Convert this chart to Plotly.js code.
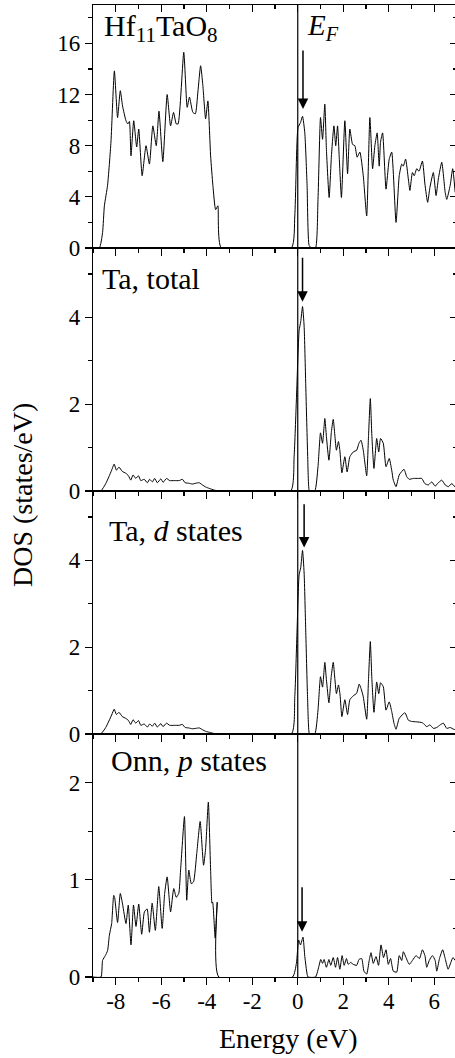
<!DOCTYPE html>
<html>
<head>
<meta charset="utf-8">
<script src="https://cdn.plot.ly/plotly-3.0.1.min.js"></script>
<style>
  html, body { margin: 0; padding: 0; background: #fff; overflow: hidden; }
  #chart { width: 457px; height: 1058px; }
</style>
</head>
<body>
<div id="chart"></div>
<script>
// ---------- data ----------
// Panel 1: Hf11TaO8 total DOS
const hfE = [-9.0,-8.72,-8.58,-8.50,-8.36,-8.21,-8.06,-7.92,-7.80,-7.70,-7.55,-7.47,-7.40,-7.33,-7.21,-7.08,-6.99,-6.84,-6.67,-6.52,-6.37,-6.22,-6.10,-5.93,-5.74,-5.59,-5.46,-5.34,-5.26,-5.01,-4.86,-4.76,-4.61,-4.50,-4.39,-4.27,-4.17,-4.05,-3.95,-3.83,-3.73,-3.61,-3.51,-3.36,
  -0.28,-0.13,0.01,0.12,0.21,0.31,0.41,0.50,0.60,0.78,0.89,1.00,1.09,1.19,1.26,1.38,1.48,1.59,1.67,1.75,1.82,1.92,2.07,2.19,2.29,2.41,2.51,2.61,2.73,2.88,3.03,3.17,3.29,3.39,3.49,3.58,3.64,3.73,3.88,4.02,4.13,4.32,4.46,4.57,4.64,4.74,4.86,4.93,5.04,5.12,5.23,5.33,5.48,5.59,5.71,5.81,5.96,6.08,6.18,6.33,6.48,6.55,6.70,6.81,6.92];
const hfDos = [0,0,1.2,3.3,4.9,8.3,13.85,10.2,12.3,11.1,9.95,9.7,9.9,7.2,9.95,7.9,9.3,5.65,8.0,6.56,9.55,8.0,10.7,6.75,12.0,9.55,10.6,9.7,9.7,15.3,11.0,11.8,10.6,10.5,12.2,14.25,12.7,10.1,11.5,7.2,4.9,3.0,3.3,0,
  0,2.5,9.4,9.8,10.3,9.0,4.9,0.2,0,0,3.8,10.2,8.5,11.25,7.7,3.95,7.2,9.55,8.0,9.55,7.2,3.95,9.95,5.8,9.3,8.1,8.0,7.1,7.5,5.65,2.5,10.2,6.2,8.0,9.0,6.4,8.3,9.0,4.6,6.95,7.5,2.0,5.65,6.56,6.4,6.95,5.4,4.5,5.9,5.65,6.2,6.0,6.8,5.0,3.57,4.74,5.9,4.1,5.4,6.7,4.35,3.8,4.9,6.2,4.35];

// Panel 2: Ta, total
const taTotE = [-9.0,-8.66,-8.44,-8.30,-8.18,-8.07,-7.97,-7.86,-7.71,-7.56,-7.44,-7.34,-7.24,-7.12,-7.00,-6.90,-6.75,-6.61,-6.51,-6.39,-6.29,-6.17,-6.02,-5.92,-5.77,-5.63,-5.43,-5.21,-5.07,-4.95,-4.80,-4.63,-4.48,-4.33,-4.19,-4.04,-3.89,-3.67,-3.45,
  -0.31,-0.16,-0.06,0.06,0.13,0.21,0.28,0.35,0.43,0.50,0.55,0.75,0.89,1.00,1.09,1.19,1.26,1.37,1.48,1.56,1.63,1.70,1.79,1.85,1.94,2.07,2.17,2.29,2.44,2.59,2.69,2.78,2.88,3.03,3.11,3.19,3.26,3.35,3.47,3.56,3.64,3.76,3.88,4.02,4.13,4.20,4.32,4.46,4.67,4.79,4.90,5.08,5.30,5.45,5.59,5.74,5.89,6.04,6.14,6.33,6.48,6.62,6.77,6.92];
const taTotDos = [0,0,0.17,0.33,0.48,0.62,0.48,0.55,0.45,0.41,0.35,0.25,0.37,0.29,0.35,0.24,0.27,0.19,0.27,0.21,0.29,0.19,0.28,0.20,0.29,0.24,0.24,0.24,0.27,0.19,0.18,0.16,0.18,0.19,0.14,0.09,0.06,0.02,0,
  0,0.79,2.1,3.7,3.9,4.25,3.8,2.48,0.94,0.02,0,0,0.56,1.34,1.1,1.67,1.25,0.71,1.37,1.65,1.29,0.94,1.14,0.94,0.42,0.79,0.44,0.79,0.90,0.94,1.1,1.17,0.94,0.35,1.25,2.13,1.25,0.52,1.21,0.9,1.21,1.1,0.56,0.75,0.48,0.25,0.1,0.37,0.5,0.33,0.27,0.29,0.29,0.29,0.17,0.14,0.21,0.11,0.17,0.25,0.14,0.1,0.17,0.09];

// Panel 3: Ta, d states
const taDE = [-9.0,-8.66,-8.44,-8.30,-8.18,-8.07,-7.97,-7.86,-7.71,-7.56,-7.44,-7.34,-7.24,-7.12,-7.00,-6.90,-6.75,-6.61,-6.51,-6.39,-6.29,-6.17,-6.02,-5.92,-5.77,-5.63,-5.43,-5.21,-5.07,-4.95,-4.80,-4.63,-4.48,-4.33,-4.19,-4.04,-3.89,-3.67,-3.45,
  -0.28,-0.13,-0.03,0.06,0.13,0.21,0.28,0.35,0.43,0.50,0.55,0.75,0.89,1.00,1.09,1.19,1.26,1.37,1.47,1.56,1.63,1.70,1.79,1.86,1.94,2.07,2.19,2.29,2.44,2.59,2.70,2.78,2.88,3.03,3.11,3.19,3.26,3.35,3.47,3.56,3.64,3.76,3.88,4.02,4.13,4.23,4.32,4.46,4.71,4.86,5.00,5.23,5.48,5.67,5.81,5.96,6.11,6.26,6.40,6.55,6.70,6.85,6.95];
const taDDos = [0,0,0.15,0.30,0.44,0.57,0.45,0.50,0.40,0.36,0.31,0.22,0.33,0.25,0.31,0.20,0.23,0.16,0.23,0.18,0.25,0.16,0.24,0.17,0.25,0.20,0.20,0.20,0.22,0.15,0.14,0.12,0.13,0.14,0.10,0.06,0.04,0.01,0,
  0,0.86,2.4,3.67,3.83,4.23,3.71,2.4,0.86,0.03,0,0,0.55,1.32,1.08,1.65,1.25,0.72,1.32,1.65,1.28,0.93,1.13,0.9,0.4,0.79,0.45,0.79,0.88,0.94,1.15,1.05,0.86,0.34,1.25,2.13,1.25,0.5,1.2,0.93,1.18,1.09,0.55,0.74,0.52,0.25,0.11,0.36,0.49,0.32,0.29,0.28,0.26,0.17,0.21,0.13,0.15,0.21,0.25,0.13,0.15,0.11,0.1];

// Panel 4: Onn, p states
const onnE = [-9.0,-8.65,-8.58,-8.46,-8.36,-8.28,-8.18,-8.09,-8.05,-7.92,-7.80,-7.70,-7.55,-7.45,-7.33,-7.22,-7.11,-6.99,-6.86,-6.74,-6.62,-6.52,-6.40,-6.26,-6.11,-5.96,-5.85,-5.74,-5.59,-5.45,-5.34,-5.23,-5.15,-4.98,-4.88,-4.79,-4.68,-4.58,-4.44,-4.29,-4.14,-4.05,-3.93,-3.83,-3.77,-3.74,-3.63,-3.54,-3.47,
  -0.23,-0.06,0.04,0.12,0.23,0.31,0.41,0.45,0.78,0.94,1.01,1.09,1.16,1.26,1.37,1.45,1.56,1.66,1.75,1.85,1.95,2.04,2.14,2.22,2.32,2.44,2.59,2.69,2.81,2.91,3.03,3.14,3.22,3.32,3.44,3.55,3.66,3.77,3.88,3.98,4.08,4.20,4.35,4.46,4.57,4.64,4.76,4.90,5.04,5.20,5.35,5.48,5.59,5.67,5.78,5.92,6.04,6.11,6.23,6.37,6.48,6.61,6.73,6.82,6.92];
const onnDos = [0,0,0.17,0.22,0.27,0.43,0.55,0.84,0.82,0.56,0.86,0.75,0.55,0.74,0.33,0.74,0.52,0.75,0.44,0.67,0.70,0.46,0.76,0.48,0.93,0.50,0.86,1.03,0.67,0.91,0.82,0.86,1.10,1.65,0.79,1.10,0.96,0.98,1.27,1.60,1.15,1.32,1.80,1.10,0.76,0.77,0.40,0.77,0,
  0,0.14,0.38,0.33,0.41,0.21,0.03,0,0,0.12,0.18,0.14,0.18,0.10,0.18,0.12,0.20,0.10,0.20,0.08,0.22,0.12,0.19,0.13,0.15,0.13,0.12,0.18,0.19,0.06,0.03,0.17,0.25,0.14,0.21,0.12,0.33,0.20,0.28,0.13,0.19,0.06,0.05,0.22,0.17,0.26,0.20,0.13,0.17,0.22,0.19,0.28,0.22,0.10,0.17,0.22,0.17,0.06,0.19,0.28,0.19,0.08,0.15,0.20,0.17];

// Axis ticks / labels
const xTickVals = [-8,-6,-4,-2,0,2,4,6];
const xTickText = ['-8','-6','-4','-2','0','2','4','6'];
const panelLabels = ['Hf<sub>11</sub>TaO<sub>8</sub>', 'Ta, total', 'Ta, <i>d</i> states', 'Onn, <i>p</i> states'];
const fermiEnergy = 0;

// ---------- styling ----------
const FONT = 'Liberation Serif';
const xRange = [-9, 7];
const yRanges = [[0, 19], [0, 5.6], [0, 5.6], [0, 2.5]];
const yDticks = [4, 2, 2, 1];
const domains = [[0.75, 1], [0.5, 0.75], [0.25, 0.5], [0, 0.25]];
const series = [[hfE, hfDos], [taTotE, taTotDos], [taDE, taDDos], [onnE, onnDos]];

const data = [];
const layout = {
  width: 457, height: 1058,
  margin: {l: 93, r: 0, t: 5, b: 81},
  paper_bgcolor: '#fff', plot_bgcolor: '#fff',
  showlegend: false,
  font: {family: FONT, color: '#000', size: 23},
  shapes: [], annotations: []
};

const LW = 1.2, TL = 7, MTL = 4;

for (let i = 0; i < 4; i++) {
  const xn = i === 0 ? 'x' : 'x' + (i + 1);
  const yn = i === 0 ? 'y' : 'y' + (i + 1);
  const xk = i === 0 ? 'xaxis' : 'xaxis' + (i + 1);
  const yk = i === 0 ? 'yaxis' : 'yaxis' + (i + 1);
  data.push({
    x: series[i][0], y: series[i][1], xaxis: xn, yaxis: yn,
    type: 'scatter', mode: 'lines', hoverinfo: 'skip',
    line: {color: '#000', width: 1, shape: 'spline', smoothing: 0.5}
  });
  layout[xk] = {
    domain: [0, 1], anchor: yn, range: xRange,
    showline: true, linecolor: '#000', linewidth: LW, mirror: true,
    ticks: 'outside', ticklen: TL, tickwidth: LW, tickcolor: '#000',
    tickmode: 'array', tickvals: xTickVals, ticktext: xTickText,
    showticklabels: i === 3, ticklabelstandoff: -4,
    tickfont: {size: 23, family: FONT, color: '#000'},
    minor: {dtick: 1, tick0: 0, ticks: 'outside', ticklen: MTL, tickwidth: LW, tickcolor: '#000', showgrid: false},
    showgrid: false, zeroline: false, fixedrange: true
  };
  layout[yk] = {
    domain: domains[i], anchor: xn, range: yRanges[i],
    showline: true, linecolor: '#000', linewidth: LW, mirror: true,
    ticks: 'outside', ticklen: TL, tickwidth: LW, tickcolor: '#000',
    dtick: yDticks[i], tick0: 0, tickfont: {size: 23, family: FONT, color: '#000'},
    minor: {dtick: yDticks[i] / 2, tick0: 0, ticks: 'outside', ticklen: MTL, tickwidth: LW, tickcolor: '#000', showgrid: false},
    showgrid: false, zeroline: false, fixedrange: true
  };
  // right-hand inside ticks
  const ryn = 'y' + (i + 5);
  data.push({x: [-100], y: [-100], xaxis: xn, yaxis: ryn, mode: 'lines', hoverinfo: 'skip', line: {width: 0}});
  layout['yaxis' + (i + 5)] = {
    overlaying: yn, anchor: xn, side: 'right', range: yRanges[i],
    showline: false, ticks: 'inside', ticklen: TL, tickwidth: LW, tickcolor: '#000',
    dtick: yDticks[i], tick0: 0, showticklabels: false,
    minor: {dtick: yDticks[i] / 2, tick0: 0, ticks: 'inside', ticklen: MTL, tickwidth: LW, tickcolor: '#000', showgrid: false},
    showgrid: false, zeroline: false, fixedrange: true
  };
  // panel label
  const lab = [[0.024, 0.998], [0.019, 0.7377], [0.0376, 0.4784], [0.0448, 0.2418]][i];
  layout.annotations.push({
    xref: 'paper', yref: 'paper', x: lab[0], y: lab[1], xanchor: 'left', yanchor: 'top',
    text: panelLabels[i], showarrow: false, font: {size: 30, family: FONT, color: '#000'}
  });
}

// top inside ticks for first panel
data.push({x: [-100], y: [-100], xaxis: 'x5', yaxis: 'y', mode: 'lines', hoverinfo: 'skip', line: {width: 0}});
layout.xaxis5 = {
  overlaying: 'x', anchor: 'y', side: 'top', range: xRange,
  showline: false, ticks: 'inside', ticklen: TL, tickwidth: LW, tickcolor: '#000',
  dtick: 2, tick0: 0, showticklabels: false,
  minor: {dtick: 1, tick0: 0, ticks: 'inside', ticklen: MTL, tickwidth: LW, tickcolor: '#000', showgrid: false},
  showgrid: false, zeroline: false, fixedrange: true
};

// Fermi level line
layout.shapes.push({type: 'line', xref: 'x', yref: 'paper', x0: fermiEnergy, x1: fermiEnergy, y0: 0, y1: 1,
  line: {color: '#000', width: 1.2}});

// E_F label
layout.annotations.push({
  xref: 'paper', yref: 'paper', x: 0.582, y: 0.998, xanchor: 'left', yanchor: 'top',
  text: '<i>E<sub>F</sub></i>', showarrow: false, font: {size: 29, family: FONT, color: '#000'}
});

// arrows pointing at the Fermi-level peaks
const arrows = [
  {xr: 'x', yr: 'y', x: 0.23, tip: 10.86, tail: 15.55},
  {xr: 'x2', yr: 'y2', x: 0.21, tip: 4.36, tail: 5.41},
  {xr: 'x3', yr: 'y3', x: 0.28, tip: 4.30, tail: 5.33},
  {xr: 'x4', yr: 'y4', x: 0.19, tip: 0.466, tail: 0.94}
];
arrows.forEach(a => layout.annotations.push({
  xref: a.xr, yref: a.yr, axref: a.xr, ayref: a.yr,
  x: a.x, y: a.tip, ax: a.x, ay: a.tail, text: '', showarrow: true,
  arrowhead: 2, arrowsize: 1.4, arrowwidth: 1.5, arrowcolor: '#000', standoff: 0, startstandoff: 0
}));

// axis titles
layout.annotations.push({
  xref: 'paper', yref: 'paper', x: -0.192, y: 0.496, xanchor: 'center', yanchor: 'middle',
  text: 'DOS (states/eV)', textangle: -90, showarrow: false, font: {size: 28, family: FONT, color: '#000'}
});
layout.annotations.push({
  xref: 'paper', yref: 'paper', x: 0.538, y: -0.0628, xanchor: 'center', yanchor: 'middle',
  text: 'Energy (eV)', showarrow: false, font: {size: 28, family: FONT, color: '#000'}
});

Plotly.newPlot('chart', data, layout, {staticPlot: true, displayModeBar: false});
</script>
</body>
</html>
